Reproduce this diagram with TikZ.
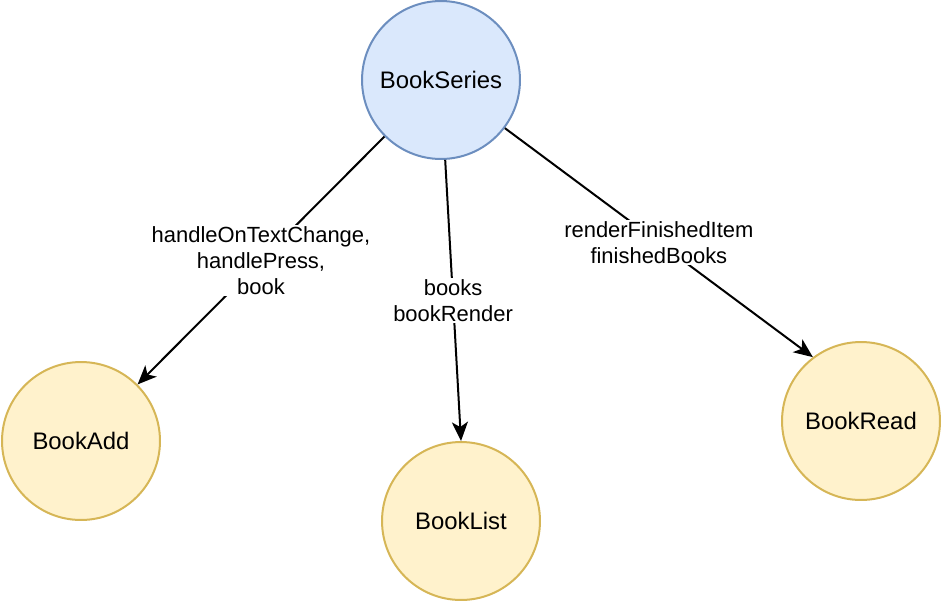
\documentclass[tikz,border=0pt]{standalone}
\usepackage{fontspec}
\setmainfont{Liberation Sans}
\usepackage{tikz}
\usetikzlibrary{arrows.meta, positioning}

\definecolor{seriesfill}{HTML}{DAE8FC}
\definecolor{seriesdraw}{HTML}{6C8EBF}
\definecolor{compfill}{HTML}{FFF2CC}
\definecolor{compdraw}{HTML}{D6B656}

\begin{document}
\begin{tikzpicture}[
        x=0.02cm, y=-0.02cm,
        parent/.style={circle, draw=seriesdraw, fill=seriesfill, line width=0.04cm, minimum size=3.16cm, inner sep=0pt, font=\fontsize{13.6}{16}\selectfont},
        child/.style={circle, draw=compdraw, fill=compfill, line width=0.04cm, minimum size=3.16cm, inner sep=0pt, font=\fontsize{13.6}{16}\selectfont},
        arrow/.style={-{Stealth[length=0.38cm, width=0.32cm, inset=0.1cm]}, line width=0.04cm},
        lbl/.style={fill=white, align=center, inner sep=1pt, font=\fontsize{12.5}{14.6}\selectfont}
    ]
        \useasboundingbox (0,0) rectangle (942,602);

        \node[parent] (series) at (441,80) {BookSeries};
        \node[child] (add) at (81,441) {BookAdd};
        \node[child] (list) at (461,521) {BookList};
        \node[child] (read) at (861,421) {BookRead};

        \draw[arrow] (series.225) -- (add.45) node[lbl, pos=0.5] {handleOnTextChange,\\handlePress,\\book};
        \draw[arrow] (series.-87) -- (list.90) node[lbl, pos=0.5] {books\\bookRender};
        \draw[arrow] (series.-37) -- (read.127) node[lbl, pos=0.5] {renderFinishedItem\\finishedBooks};
    \end{tikzpicture}
\end{document}
